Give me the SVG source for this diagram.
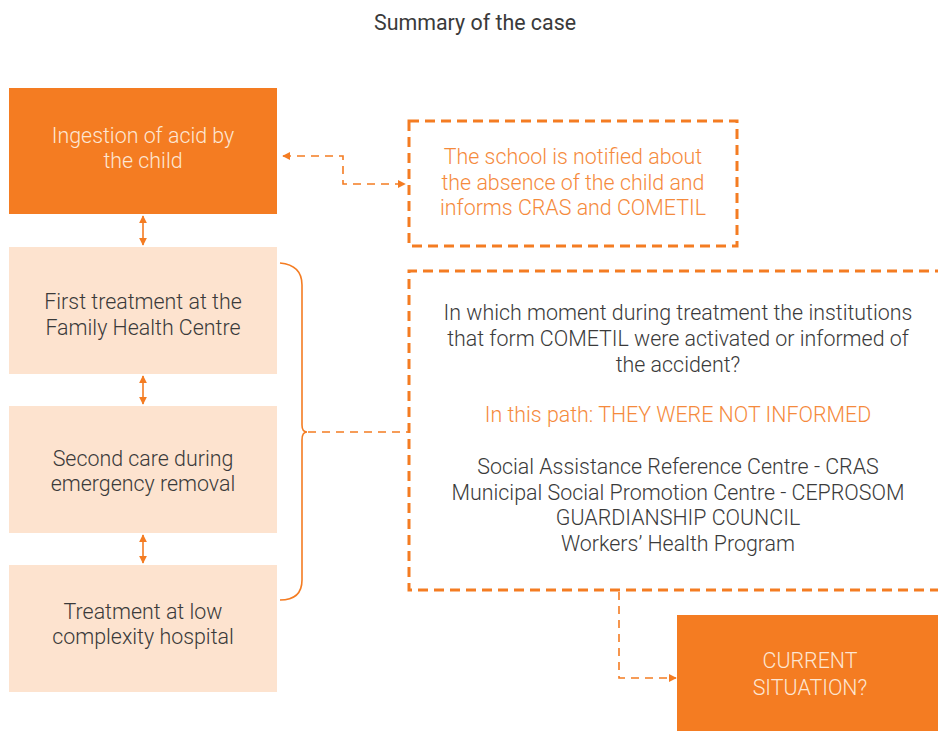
<svg xmlns="http://www.w3.org/2000/svg" width="938" height="731" viewBox="0 0 938 731">
<style>
text{font-family:Roboto,"Liberation Sans",sans-serif;font-size:21.4px;text-anchor:middle}
.lt{font-weight:300}
.dk{fill:#3a3a3a}
.or{fill:#F58A3C}
.wh{fill:#FDE6D3}
.solid{fill:#F47C22}
.light{fill:#FDE3CF}
.dbox{fill:none;stroke:#F47C22;stroke-width:3;stroke-dasharray:10 6}
.con{fill:none;stroke:#F47C22;stroke-width:1.6;stroke-dasharray:8 6}
.arr{fill:none;stroke:#F47C22;stroke-width:1.6}
</style>
<defs>
<marker id="ah" viewBox="0 0 10 10" refX="9" refY="5" markerWidth="8" markerHeight="8" markerUnits="userSpaceOnUse" orient="auto-start-reverse">
<path d="M0,0 L10,5 L0,10 z" fill="#F47C22"/>
</marker>
</defs>
<rect width="938" height="731" fill="#fff"/>
<text x="475" y="30" class="dk">Summary of the case</text>

<g id="n1"><rect x="9" y="88" width="268" height="126" class="solid"/>
<text x="143" y="143" class="lt wh">Ingestion of acid by</text><text x="143" y="168" class="lt wh">the child</text></g>
<g id="n2"><rect x="9" y="247" width="268" height="127" class="light"/>
<text x="143" y="309" class="lt dk">First treatment at the</text><text x="143" y="335" class="lt dk">Family Health Centre</text></g>
<g id="n3"><rect x="9" y="406" width="268" height="127" class="light"/>
<text x="143" y="466" class="lt dk">Second care during</text><text x="143" y="491" class="lt dk">emergency removal</text></g>
<g id="n4"><rect x="9" y="565" width="268" height="127" class="light"/>
<text x="143" y="619" class="lt dk">Treatment at low</text><text x="143" y="644" class="lt dk">complexity hospital</text></g>

<g id="n5"><rect x="409" y="121" width="328" height="125" class="dbox"/>
<text x="573" y="164" class="lt or">The school is notified about</text>
<text x="573" y="190" class="lt or">the absence of the child and</text>
<text x="573" y="215" class="lt or">informs CRAS and COMETIL</text></g>

<g id="n6"><path d="M945,271 H409 V590 H945" class="dbox"/>
<text x="678" y="320" class="lt dk">In which moment during treatment the institutions</text>
<text x="678" y="346" class="lt dk">that form COMETIL were activated or informed of</text>
<text x="678" y="372" class="lt dk">the accident?</text>
<text x="678" y="422" class="lt or">In this path: THEY WERE NOT INFORMED</text>
<text x="678" y="474" class="lt dk">Social Assistance Reference Centre - CRAS</text>
<text x="678" y="500" class="lt dk">Municipal Social Promotion Centre - CEPROSOM</text>
<text x="678" y="525" class="lt dk">GUARDIANSHIP COUNCIL</text>
<text x="678" y="551" class="lt dk">Workers’ Health Program</text></g>

<g id="n7"><rect x="677" y="615" width="261" height="116" class="solid"/>
<text x="810" y="668" class="lt wh">CURRENT</text><text x="810" y="695" class="lt wh">SITUATION?</text></g>

<g id="connectors">
<path d="M143,216 V245" class="arr" marker-start="url(#ah)" marker-end="url(#ah)"/>
<path d="M143,376 V404" class="arr" marker-start="url(#ah)" marker-end="url(#ah)"/>
<path d="M143,535 V563" class="arr" marker-start="url(#ah)" marker-end="url(#ah)"/>
<path d="M283,156 H343 V184 H405" class="con" marker-start="url(#ah)" marker-end="url(#ah)"/>
<path d="M280,263 Q302,265 302,285 V425 Q302,432 307,432 Q302,432 302,440 V580 Q302,600 280,600" fill="none" stroke="#F47C22" stroke-width="1.6"/>
<path d="M308,432 H409" class="con"/>
<path d="M619,592 V678 H676" class="con" marker-end="url(#ah)"/>
</g>
</svg>
